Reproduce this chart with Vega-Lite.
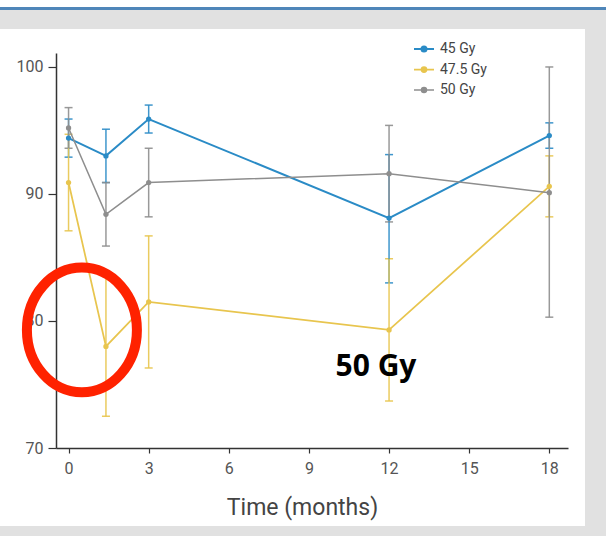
{
  "$schema": "https://vega.github.io/schema/vega-lite/v6.json",
  "width": 585,
  "height": 497,
  "autosize": {"type": "none"},
  "padding": {"left": 0, "top": 29, "right": 21, "bottom": 10},
  "background": "#e1e1e1",
  "view": {"fill": "white", "stroke": null},
  "config": {
    "font": "Roboto",
    "axis": {"grid": false, "domainColor": "#333333", "tickColor": "#333333", "domainWidth": 1.5, "tickWidth": 1.2, "labelColor": "#555555", "labelFontSize": 16, "labelFont": "Roboto"}
  },
  "data": {
    "values": [
      {"series": "45 Gy", "t": 0, "y": 94.4, "lo": 92.9, "hi": 95.9},
      {"series": "45 Gy", "t": 1.4, "y": 93.0, "lo": 90.9, "hi": 95.1},
      {"series": "45 Gy", "t": 3, "y": 95.9, "lo": 94.8, "hi": 97.0},
      {"series": "45 Gy", "t": 12, "y": 88.1, "lo": 83.0, "hi": 93.1},
      {"series": "45 Gy", "t": 18, "y": 94.6, "lo": 93.6, "hi": 95.6},
      {"series": "47.5 Gy", "t": 0, "y": 90.9, "lo": 87.1, "hi": 94.7},
      {"series": "47.5 Gy", "t": 1.4, "y": 78.0, "lo": 72.5, "hi": 83.5},
      {"series": "47.5 Gy", "t": 3, "y": 81.5, "lo": 76.3, "hi": 86.7},
      {"series": "47.5 Gy", "t": 12, "y": 79.3, "lo": 73.7, "hi": 84.9},
      {"series": "47.5 Gy", "t": 18, "y": 90.6, "lo": 88.2, "hi": 93.0},
      {"series": "50 Gy", "t": 0, "y": 95.2, "lo": 93.6, "hi": 96.8},
      {"series": "50 Gy", "t": 1.4, "y": 88.4, "lo": 85.9, "hi": 90.9},
      {"series": "50 Gy", "t": 3, "y": 90.9, "lo": 88.2, "hi": 93.6},
      {"series": "50 Gy", "t": 12, "y": 91.6, "lo": 87.8, "hi": 95.4},
      {"series": "50 Gy", "t": 18, "y": 90.1, "lo": 80.3, "hi": 100.0}
    ]
  },
  "layer": [
    {
      "data": {"values": [{"part": "top strip"}]},
      "mark": {"type": "rule", "color": "white", "strokeWidth": 7},
      "encoding": {
        "x": {"datum": -2.7, "type": "quantitative", "scale": {"domain": [-0.47, 18.7], "range": [56, 568], "nice": false, "zero": false}},
        "x2": {"datum": 20.3},
        "y": {"datum": 105.0, "type": "quantitative", "scale": {"domain": [70, 101.1], "range": [419, 24], "nice": false, "zero": false}}
      }
    },
    {
      "data": {"values": [{"part": "top line"}]},
      "mark": {"type": "rule", "color": "#4f86b9", "strokeWidth": 3},
      "encoding": {
        "x": {"datum": -2.7, "type": "quantitative", "scale": {"domain": [-0.47, 18.7], "range": [56, 568], "nice": false, "zero": false}},
        "x2": {"datum": 20.3},
        "y": {"datum": 104.61, "type": "quantitative", "scale": {"domain": [70, 101.1], "range": [419, 24], "nice": false, "zero": false}}
      }
    },
    {
      "mark": {"type": "errorbar", "ticks": {"size": 8, "thickness": 1.5, "opacity": 0.9}, "rule": {"strokeWidth": 1.5, "opacity": 0.9}},
      "encoding": {
        "x": {"field": "t", "type": "quantitative", "scale": {"domain": [-0.47, 18.7], "range": [56, 568], "nice": false, "zero": false}},
        "y": {"field": "lo", "type": "quantitative", "scale": {"domain": [70, 101.1], "range": [419, 24], "nice": false, "zero": false}},
        "y2": {"field": "hi"},
        "color": {"field": "series", "type": "nominal", "scale": {"domain": ["45 Gy", "47.5 Gy", "50 Gy"], "range": ["#2a8bc6", "#e8c54e", "#8e8e8e"]}}
      }
    },
    {
      "mark": {"type": "line"},
      "encoding": {
        "x": {"field": "t", "type": "quantitative", "scale": {"domain": [-0.47, 18.7], "range": [56, 568], "nice": false, "zero": false},
          "axis": {"title": "Time (months)", "values": [0, 3, 6, 9, 12, 15, 18], "orient": "bottom", "offset": -78, "tickSize": 5, "labelPadding": 7, "titleFont": "Roboto", "titleFontSize": 23, "titleFontWeight": "normal", "titleColor": "#444444", "titleX": 302, "titleY": 66, "titleBaseline": "alphabetic"}},
        "y": {"field": "y", "type": "quantitative", "scale": {"domain": [70, 101.1], "range": [419, 24], "nice": false, "zero": false},
          "axis": {"title": null, "values": [70, 80, 90, 100], "orient": "left", "offset": -56, "tickSize": 8, "labelPadding": 5}},
        "color": {"field": "series", "type": "nominal", "scale": {"domain": ["45 Gy", "47.5 Gy", "50 Gy"], "range": ["#2a8bc6", "#e8c54e", "#8e8e8e"]},
          "legend": {"title": null, "orient": "none", "legendX": 413, "legendY": 9, "padding": 0, "rowPadding": 2.5, "symbolType": "M-1,0L1,0M-0.25,0A0.25,0.25,0,1,1,0.25,0A0.25,0.25,0,1,1,-0.25,0Z", "symbolSize": 400, "symbolStrokeWidth": 2, "labelFont": "Roboto", "labelFontSize": 14, "labelColor": "#444444", "labelOffset": 5,
            "encode": {"symbols": {"update": {"fill": {"field": "value", "scale": "color"}, "stroke": {"field": "value", "scale": "color"}}}}}},
        "strokeWidth": {"field": "series", "type": "nominal", "scale": {"domain": ["45 Gy", "47.5 Gy", "50 Gy"], "range": [2, 1.5, 1.8]}, "legend": null}
      }
    },
    {
      "mark": {"type": "point", "filled": true, "size": 28, "opacity": 1},
      "encoding": {
        "x": {"field": "t", "type": "quantitative", "scale": {"domain": [-0.47, 18.7], "range": [56, 568], "nice": false, "zero": false}},
        "y": {"field": "y", "type": "quantitative", "scale": {"domain": [70, 101.1], "range": [419, 24], "nice": false, "zero": false}},
        "color": {"field": "series", "type": "nominal", "scale": {"domain": ["45 Gy", "47.5 Gy", "50 Gy"], "range": ["#2a8bc6", "#e8c54e", "#8e8e8e"]}}
      }
    },
    {
      "data": {"values": [{"note": "circled"}]},
      "mark": {"type": "point", "shape": "M-1,0A1,1.133,0,1,1,1,0A1,1.133,0,1,1,-1,0Z", "size": 12100, "filled": false, "color": "#ff2200", "strokeWidth": 10, "opacity": 1},
      "encoding": {
        "x": {"datum": 0.5, "type": "quantitative", "scale": {"domain": [-0.47, 18.7], "range": [56, 568], "nice": false, "zero": false}},
        "y": {"datum": 79.3, "type": "quantitative", "scale": {"domain": [70, 101.1], "range": [419, 24], "nice": false, "zero": false}}
      }
    },
    {
      "data": {"values": [{"label": "50 Gy"}]},
      "mark": {"type": "text", "font": "Open Sans", "fontWeight": "bold", "fontSize": 30, "color": "black", "align": "center", "baseline": "alphabetic"},
      "encoding": {
        "x": {"datum": 11.51, "type": "quantitative", "scale": {"domain": [-0.47, 18.7], "range": [56, 568], "nice": false, "zero": false}},
        "y": {"datum": 75.69, "type": "quantitative", "scale": {"domain": [70, 101.1], "range": [419, 24], "nice": false, "zero": false}},
        "text": {"field": "label"}
      }
    }
  ]
}
